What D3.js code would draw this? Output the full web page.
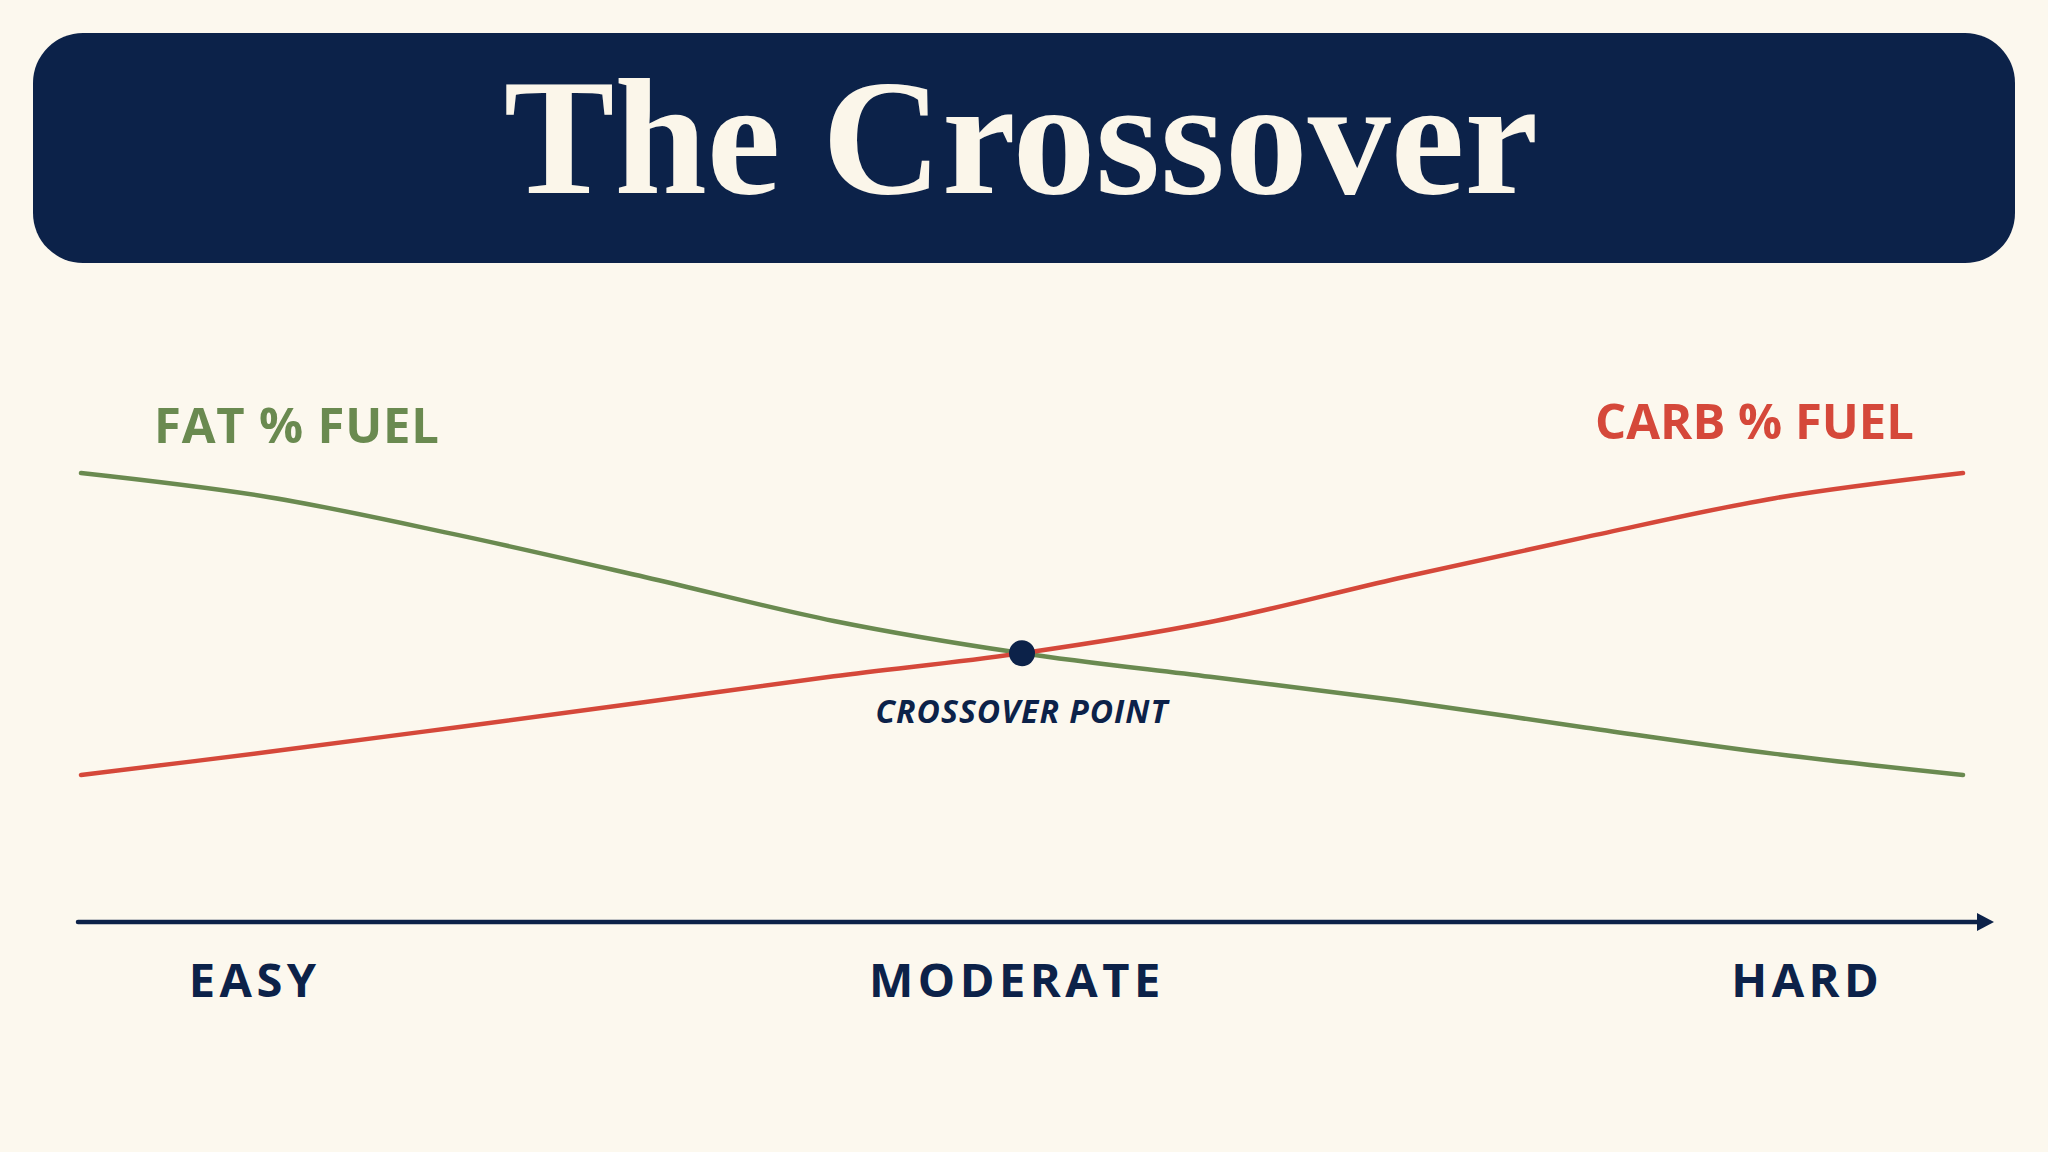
<!DOCTYPE html>
<html>
<head>
<meta charset="utf-8">
<script src="https://cdn.jsdelivr.net/npm/d3@7"></script>
<style>
  html, body { margin: 0; padding: 0; background: #fcf8ee; }
  svg { display: block; }
</style>
</head>
<body>
<script>
// exercise intensity (0 = easy, 100 = hard) and share of fuel
var intensity = [0, 10, 20, 30, 40, 50, 60, 70, 80, 90, 100];
var fatPct    = [80, 75.2, 67.7, 59.3, 50.6, 44.2, 39.5, 34.8, 29.4, 24.2, 20];
var carbPct   = [20, 24.6, 29.5, 34.5, 39.6, 44.2, 50.4, 59.1, 67.3, 75.0, 80];
var axisLabels = ["EASY", "MODERATE", "HARD"];
var axisTicks  = [9.2, 49.7, 91.7];

var W = 2048, H = 1152;
var navy = "#0c2249", green = "#6a8a50", red = "#d5483a", cream = "#fcf8ee";

var svg = d3.select("body")
  .append("svg")
    .attr("width", W)
    .attr("height", H)
    .style("background", cream);

// header banner
svg.append("rect")
  .attr("x", 33)
  .attr("y", 33)
  .attr("width", 1982)
  .attr("height", 230)
  .attr("rx", 50)
  .attr("fill", navy);

svg.append("text")
  .attr("x", 1021)
  .attr("y", 193)
  .attr("text-anchor", "middle")
  .attr("font-family", "'Liberation Serif', 'DejaVu Serif', serif")
  .attr("font-weight", "bold")
  .attr("font-size", "166px")
  .attr("fill", "#fbf6ea")
  .text("The Crossover");

var x = d3.scaleLinear()
  .domain([0, 100])
  .range([81, 1963]);

var y = d3.scaleLinear()
  .domain([20, 80])
  .range([775, 473]);

var line = d3.line()
  .x(function(d) { return x(d[0]); })
  .y(function(d) { return y(d[1]); })
  .curve(d3.curveCatmullRom.alpha(0.5));

var series = [
  {name: "FAT % FUEL", values: fatPct, color: green},
  {name: "CARB % FUEL", values: carbPct, color: red}
];

svg.selectAll("path.series")
  .data(series)
  .enter()
  .append("path")
    .attr("class", "series")
    .attr("d", function(s) { return line(intensity.map(function(t, i) { return [t, s.values[i]]; })); })
    .attr("fill", "none")
    .attr("stroke", function(s) { return s.color; })
    .attr("stroke-width", 4.5)
    .attr("stroke-linecap", "round");

// series labels
svg.append("text")
  .attr("x", 154)
  .attr("y", 443)
  .attr("font-family", "'Open Sans', sans-serif")
  .attr("font-weight", "bold")
  .attr("font-size", "49px")
  .attr("letter-spacing", "0.8px")
  .attr("fill", green)
  .text(series[0].name);

svg.append("text")
  .attr("x", 1914)
  .attr("y", 439)
  .attr("text-anchor", "end")
  .attr("font-family", "'Open Sans', sans-serif")
  .attr("font-weight", "bold")
  .attr("font-size", "49px")
  .attr("fill", red)
  .text(series[1].name);

// crossover point: where both series meet
var ci = intensity.findIndex(function(t, i) { return fatPct[i] === carbPct[i]; });

svg.append("circle")
  .attr("cx", x(intensity[ci]))
  .attr("cy", y(fatPct[ci]))
  .attr("r", 13)
  .attr("fill", navy);

svg.append("text")
  .attr("x", x(intensity[ci]))
  .attr("y", y(fatPct[ci]) + 70)
  .attr("text-anchor", "middle")
  .attr("font-family", "'Open Sans', sans-serif")
  .attr("font-weight", "bold")
  .attr("font-style", "italic")
  .attr("font-size", "32px")
  .attr("letter-spacing", "1px")
  .attr("fill", navy)
  .text("CROSSOVER POINT");

// intensity axis with arrow
svg.append("defs")
  .append("marker")
    .attr("id", "arrow")
    .attr("markerUnits", "userSpaceOnUse")
    .attr("markerWidth", 20)
    .attr("markerHeight", 20)
    .attr("refX", 2)
    .attr("refY", 9)
    .attr("orient", "auto")
  .append("path")
    .attr("d", "M0,0 L17,9 L0,18 Z")
    .attr("fill", navy);

svg.append("line")
  .attr("x1", x(0) - 3)
  .attr("x2", x(100) + 16)
  .attr("y1", 922)
  .attr("y2", 922)
  .attr("stroke", navy)
  .attr("stroke-width", 4.5)
  .attr("stroke-linecap", "round")
  .attr("marker-end", "url(#arrow)");

var bottomAxis = d3.axisBottom(x)
  .tickValues(axisTicks)
  .tickFormat(function(d, i) { return axisLabels[i]; })
  .tickSize(0)
  .tickPadding(42);

var gx = svg.append("g")
  .attr("class", "x axis")
  .attr("transform", "translate(0, 922)")
  .call(bottomAxis);

gx.select(".domain").remove();
gx.selectAll("text")
  .attr("font-family", "'Open Sans', sans-serif")
  .attr("font-weight", "bold")
  .attr("font-size", "47px")
  .attr("letter-spacing", "4.5px")
  .attr("fill", navy);
</script>
</body>
</html>
